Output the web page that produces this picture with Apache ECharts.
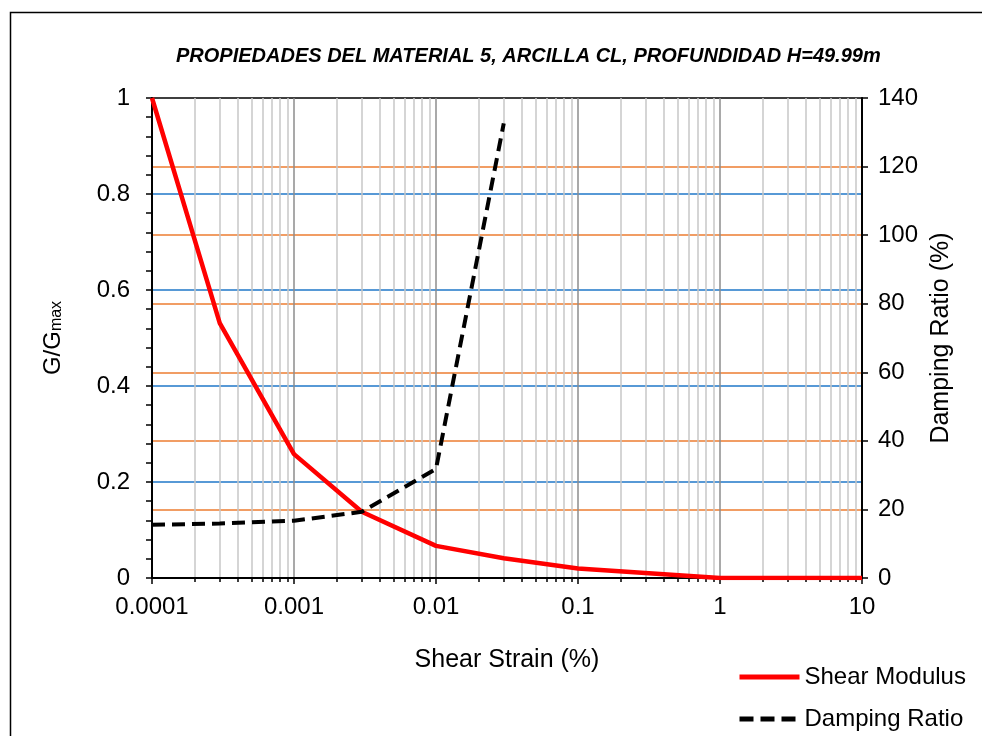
<!DOCTYPE html>
<html><head><meta charset="utf-8">
<script src="https://cdn.jsdelivr.net/npm/echarts@6/dist/echarts.min.js"></script>
<style>html,body{margin:0;padding:0;background:#fff}#c{width:982px;height:736px}</style>
</head><body><div id="c"></div>
<script>
const titleText = 'PROPIEDADES DEL MATERIAL 5, ARCILLA CL, PROFUNDIDAD H=49.99m';
const strain = [0.0001, 0.0003, 0.001, 0.003, 0.01, 0.03, 0.1, 1, 10];
const shearModulus = [1.0, 0.531, 0.258, 0.138, 0.067, 0.041, 0.020, 0.0, 0.0];
const dampStrain = [0.0001, 0.0003, 0.001, 0.003, 0.01, 0.03];
const dampingRatio = [15.5, 15.9, 16.7, 19.3, 31.8, 132.6];
const xTicks = [0.0001, 0.001, 0.01, 0.1, 1, 10];

const font = 'Liberation Sans, Arial, sans-serif';
const chart = echarts.init(document.getElementById('c'));
chart.setOption({
  animation: false,
  backgroundColor: '#fff',
  textStyle: {fontFamily: font},
  title: {
    text: titleText, left: 176, top: 46, padding: 0,
    textStyle: {fontFamily: font, fontSize: 20, fontWeight: 'bold', fontStyle: 'italic', color: '#000'}
  },
  graphic: [{type: 'rect', left: 8, top: 10, shape: {width: 1000, height: 800},
    style: {fill: 'none', stroke: '#000', lineWidth: 1.5}, silent: true}],
  grid: {left: 152, right: 120, top: 98, bottom: 158, show: true, borderColor: '#000', borderWidth: 1.5},
  legend: {
    orient: 'vertical', left: 732, top: 660, itemWidth: 60, itemHeight: 14, itemGap: 18,
    textStyle: {fontFamily: font, fontSize: 24, color: '#000'},
    itemStyle: {opacity: 0},
    data: [
      {name: 'Shear Modulus', lineStyle: {color: '#ff0000', width: 5}},
      {name: 'Damping Ratio', lineStyle: {color: '#000', width: 5, type: [14, 7]}}
    ]
  },
  xAxis: {
    type: 'log', logBase: 10, min: xTicks[0], max: xTicks[xTicks.length - 1],
    name: 'Shear Strain (%)', nameLocation: 'middle', nameGap: 70,
    nameTextStyle: {fontFamily: font, fontSize: 25, color: '#000'},
    axisLine: {show: true, onZero: false, lineStyle: {color: '#000', width: 2}},
    axisTick: {show: true, inside: false, length: 6, lineStyle: {color: '#000', width: 1.5}},
    minorTick: {show: true, splitNumber: 9, length: 4, lineStyle: {color: '#000', width: 1.5}},
    axisLabel: {margin: 17, fontSize: 24, color: '#000', fontFamily: font,
      formatter: v => String(Number(Number(v).toPrecision(6)))},
    splitLine: {show: true, lineStyle: {color: '#8c8c8c', width: 1.5}},
    minorSplitLine: {show: true, lineStyle: {color: '#c8c8c8', width: 1.5}}
  },
  yAxis: [{
    type: 'value', min: 0, max: 1, interval: 0.2, position: 'left',
    name: '{g|G/G}{s|max}', nameLocation: 'middle', nameGap: 87, nameRotate: 90,
    nameTextStyle: {rich: {
      g: {fontFamily: font, fontSize: 24, color: '#000'},
      s: {fontFamily: font, fontSize: 16, color: '#000', verticalAlign: 'bottom', padding: [8, 0, 0, 0]}
    }},
    axisLine: {show: true, lineStyle: {color: '#000', width: 2}},
    axisTick: {show: true, inside: false, length: 6, lineStyle: {color: '#000', width: 1.5}},
    minorTick: {show: true, splitNumber: 5, length: 6, lineStyle: {color: '#000', width: 1.5}},
    axisLabel: {margin: 22, fontSize: 24, color: '#000', fontFamily: font},
    splitLine: {show: true, showMinLine: false, showMaxLine: false, lineStyle: {color: '#1f77c8', width: 1.5}}
  }, {
    type: 'value', min: 0, max: 140, interval: 20, position: 'right',
    name: 'Damping Ratio (%)', nameLocation: 'middle', nameGap: 62, nameRotate: 90,
    nameTextStyle: {fontFamily: font, fontSize: 25, color: '#000'},
    axisLine: {show: true, lineStyle: {color: '#000', width: 2}},
    axisTick: {show: true, inside: false, length: 6, lineStyle: {color: '#000', width: 1.5}},
    axisLabel: {margin: 16, fontSize: 24, color: '#000', fontFamily: font},
    splitLine: {show: true, showMinLine: false, showMaxLine: false, lineStyle: {color: '#ed7d31', width: 1.5}}
  }],
  series: [{
    name: 'Shear Modulus', type: 'line', yAxisIndex: 0, symbol: 'none',
    data: strain.map((x, i) => [x, shearModulus[i]]),
    lineStyle: {color: '#ff0000', width: 4.5}, itemStyle: {color: '#ff0000'}, z: 3
  }, {
    name: 'Damping Ratio', type: 'line', yAxisIndex: 1, symbol: 'none',
    data: dampStrain.map((x, i) => [x, dampingRatio[i]]),
    lineStyle: {color: '#000', width: 4, type: [13, 7]}, itemStyle: {color: '#000'}, z: 4
  }]
});
</script></body></html>
